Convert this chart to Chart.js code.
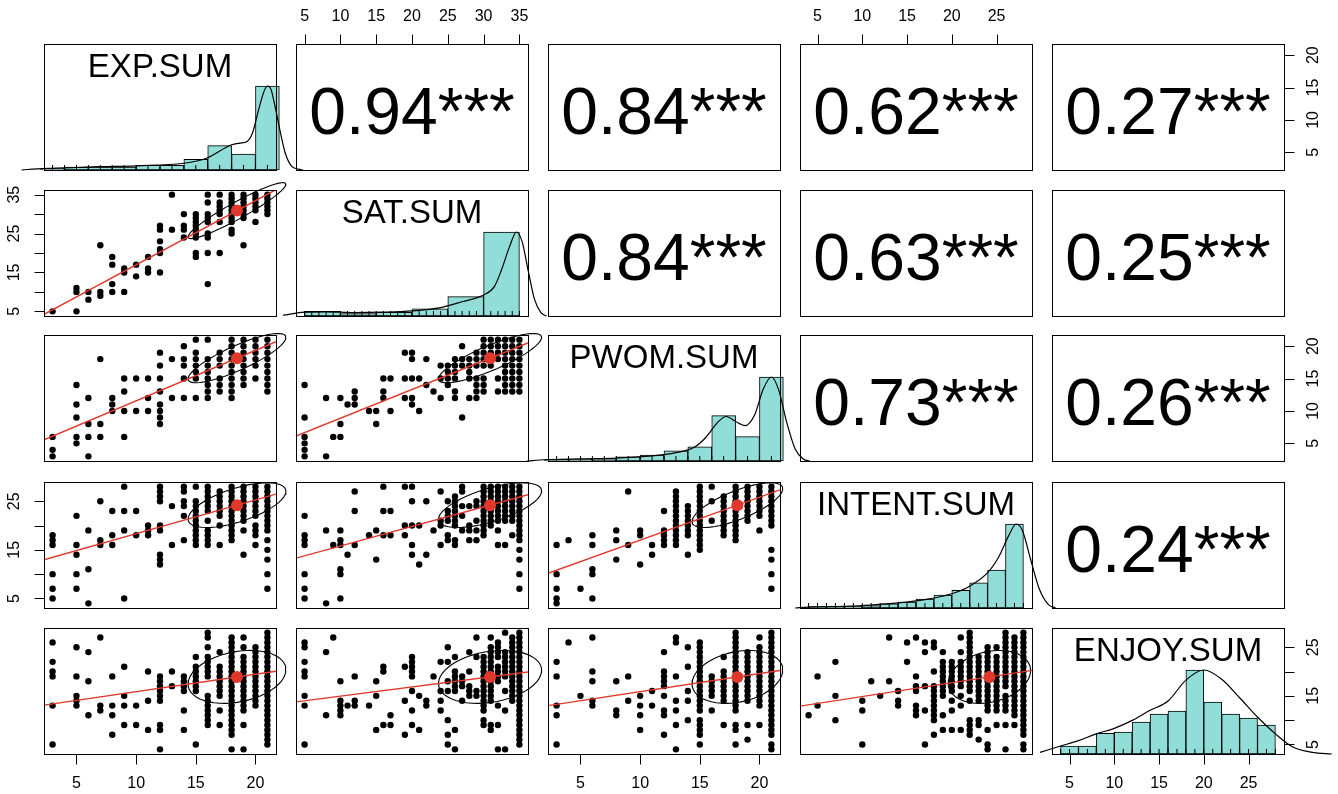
<!DOCTYPE html>
<html>
<head>
<meta charset="utf-8">
<script src="https://cdn.jsdelivr.net/npm/chart.js@4.4.1/dist/chart.umd.min.js"></script>
<style>
  html, body { margin: 0; padding: 0; background: #fff; overflow: hidden; }
  #wrap { position: relative; width: 1338px; height: 794px; }
  #wrap canvas { position: absolute; }
</style>
</head>
<body>
<div id="wrap"></div>
<script>
// ---- variables ----
const varNames = ['EXP.SUM', 'SAT.SUM', 'PWOM.SUM', 'INTENT.SUM', 'ENJOY.SUM'];
const varMin = [3, 5, 3, 4, 4];
const varMax = [21, 35, 21, 28, 28];
const varMean = [18.45, 30.9, 18.15, 24.2, 18.9];
const varSd = [4.1, 7.2, 3.8, 4.6, 5.45];

const corrs = [
  [1, 0.94, 0.84, 0.62, 0.27],
  [0.94, 1, 0.84, 0.63, 0.25],
  [0.84, 0.84, 1, 0.73, 0.26],
  [0.62, 0.63, 0.73, 1, 0.24],
  [0.27, 0.25, 0.26, 0.24, 1],
];

// ---- tick values ----
const ticksEXP = [5, 10, 15, 20];
const ticksSAT = [5, 10, 15, 20, 25, 30, 35];
const ticksPWOM = [5, 10, 15, 20];
const ticksINTENT = [5, 10, 15, 20, 25];
const ticksENJOY = [5, 10, 15, 20, 25];

// ---- histograms (bin edges, heights relative to tallest bin) ----
const expEdges = [2, 4, 6, 8, 10, 12, 14, 16, 18, 20, 22];
const expHeights = [0.02, 0.036, 0.036, 0.036, 0.055, 0.055, 0.127, 0.29, 0.19, 1];
const satEdges = [5, 10, 15, 20, 25, 30, 35];
const satHeights = [0.055, 0.03, 0.045, 0.085, 0.23, 1];
const pwomEdges = [2, 4, 6, 8, 10, 12, 14, 16, 18, 20, 22];
const pwomHeights = [0.02, 0.02, 0.025, 0.05, 0.07, 0.12, 0.17, 0.54, 0.29, 1];
const intentEdges = [4, 6, 8, 10, 12, 14, 16, 18, 20, 22, 24, 26, 28];
const intentHeights = [0.02, 0.02, 0.02, 0.03, 0.05, 0.07, 0.107, 0.155, 0.21, 0.3, 0.45, 1];
const enjoyEdges = [4, 6, 8, 10, 12, 14, 16, 18, 20, 22, 24, 26, 28];
const enjoyHeights = [0.095, 0.095, 0.246, 0.262, 0.381, 0.476, 0.512, 1, 0.619, 0.476, 0.429, 0.345];

// ---- density curves (x, relative height) ----
const expDensity = [[0.4, 0], [2, 0.016], [5, 0.03], [7, 0.04], [10, 0.05], [14, 0.08], [15.9, 0.14], [18, 0.3], [18.7, 0.32], [19.3, 0.34], [19.75, 0.44], [20.25, 0.71], [20.7, 0.93], [21, 1], [21.3, 0.96], [21.65, 0.75], [22.1, 0.44], [22.5, 0.2], [23, 0.05], [23.6, 0.01], [24, 0]];
const satDensity = [[2, 0.01], [5, 0.045], [8, 0.05], [12, 0.04], [16, 0.045], [20, 0.06], [24, 0.1], [27, 0.17], [30, 0.25], [31.5, 0.35], [32.5, 0.55], [33.6, 0.82], [34.6, 1], [35.4, 0.88], [36.2, 0.55], [37.1, 0.2], [38, 0.04], [38.8, 0]];
const pwomDensity = [[0.5, 0], [2, 0.015], [5, 0.025], [8, 0.035], [11, 0.06], [13, 0.1], [14.5, 0.16], [15.5, 0.28], [16.5, 0.46], [17.2, 0.53], [18, 0.47], [18.8, 0.42], [19.6, 0.55], [20.3, 0.85], [21, 1], [21.6, 0.85], [22.3, 0.45], [23, 0.14], [23.7, 0.02], [24.2, 0]];
const intentDensity = [[2.5, 0], [4, 0.01], [8, 0.02], [11, 0.035], [14, 0.06], [17, 0.1], [20, 0.17], [22, 0.26], [24, 0.42], [25.3, 0.62], [26.3, 0.85], [27.2, 1], [27.9, 0.92], [28.8, 0.58], [29.8, 0.22], [30.8, 0.04], [31.6, 0]];
const enjoyDensity = [[1.7, 0.02], [4, 0.095], [6, 0.16], [8, 0.24], [10, 0.305], [12, 0.4], [14, 0.52], [16, 0.63], [18, 0.88], [20, 1], [22, 0.89], [24, 0.67], [26, 0.44], [28, 0.24], [30, 0.08], [32.1, 0.02], [34.3, 0]];

// ---- rug values ----
const expRug = [3, 4, 5, 6, 7, 8, 9, 10, 11, 12, 13, 14, 15, 16, 17, 18, 19, 20, 21];
const satRug = [5, 6, 7, 8, 9, 10, 11, 12, 13, 14, 15, 16, 17, 18, 19, 20, 21, 22, 23, 24, 25, 26, 27, 28, 29, 30, 31, 32, 33, 34, 35];
const pwomRug = [3, 4, 5, 6, 7, 8, 9, 10, 11, 12, 13, 14, 15, 16, 17, 18, 19, 20, 21];
const intentRug = [4, 5, 6, 7, 8, 9, 10, 11, 12, 13, 14, 15, 16, 17, 18, 19, 20, 21, 22, 23, 24, 25, 26, 27, 28];
const enjoyRug = [4, 5, 6, 7, 8, 9, 10, 11, 12, 13, 14, 15, 16, 17, 18, 19, 20, 21, 22, 23, 24, 25, 26, 27, 28];

// ---- scatter data: [x, [y values]] ----
const satVsExp = [
  [3, [5]], [5, [11, 10, 5]], [6, [10, 8]], [7, [22, 10, 9]], [8, [19, 17, 12, 10]],
  [9, [16, 15, 10]], [10, [17, 14]], [11, [19, 16, 15]], [12, [27, 26, 23, 21, 20, 15]],
  [13, [35, 26]], [14, [30, 27, 26, 24]], [15, [30, 29, 28, 27, 26, 25, 24, 20, 19]],
  [16, [35, 33, 30, 29, 28, 25, 24, 20, 12]], [17, [35, 33, 32, 31, 30, 28, 20]],
  [18, [35, 34, 33, 32, 31, 30, 29, 28, 26, 25]], [19, [35, 34, 33, 32, 31, 30, 29, 22]],
  [20, [35, 34, 33, 32, 31, 28]], [21, [35, 34, 33, 32, 31, 30]],
];
const pwomVsExp = [
  [3, [6, 4, 3]], [5, [14, 11, 9, 6, 5]], [6, [12, 8, 6, 3]], [7, [18, 8, 6]], [8, [12, 11, 10]],
  [9, [15, 13, 10, 6]], [10, [15, 10]], [11, [15, 12, 10]], [12, [19, 17, 15, 13, 11, 10, 9, 8]],
  [13, [18, 12]], [14, [20, 18, 17, 15, 12]], [15, [21, 19, 18, 17, 16, 15, 12]],
  [16, [21, 18, 17, 16, 15, 14, 13, 12]], [17, [19, 18, 17, 15, 14, 13]],
  [18, [21, 20, 19, 18, 17, 16, 15, 14, 13, 12]], [19, [21, 20, 19, 18, 17, 16, 15, 14]],
  [20, [21, 20, 19, 18, 17, 15]], [21, [21, 20, 19, 18, 17, 16, 15, 14, 13]],
];
const intentVsExp = [
  [3, [18, 17, 16, 10, 7, 5]], [5, [22, 16, 14, 10, 7]], [6, [19, 11, 4]], [7, [25, 17, 16]],
  [8, [23, 18, 16]], [9, [28, 23, 19, 5]], [10, [23, 18]], [11, [20, 19, 18]],
  [12, [28, 27, 26, 25, 20, 19, 14, 13, 12]], [13, [24, 16]], [14, [28, 27, 25, 24, 22, 17]],
  [15, [28, 25, 24, 23, 22, 21, 20, 19, 18, 17, 16]], [16, [28, 27, 26, 25, 24, 23, 21, 19, 18, 17, 16]],
  [17, [27, 26, 25, 24, 23, 22, 20, 16]], [18, [28, 27, 26, 25, 24, 23, 22, 21, 20, 19, 18, 17]],
  [19, [28, 27, 26, 25, 24, 23, 22, 21, 19, 14]], [20, [28, 27, 26, 25, 24, 23, 22, 20, 19, 18, 16]],
  [21, [28, 27, 26, 25, 24, 23, 22, 21, 20, 19, 17, 15, 13, 10, 7]],
];
const enjoyVsExp = [
  [3, [26, 22, 20, 19, 13, 5]], [5, [25, 19, 15, 14, 13]], [6, [24, 18, 11]], [7, [27, 13, 12]],
  [8, [19, 13, 11, 7]], [9, [21, 15, 13, 9]], [10, [13, 9]], [11, [20, 14, 8]],
  [12, [19, 18, 17, 16, 15, 14, 9, 8, 4]], [13, [20, 17]], [14, [19, 18, 17, 16, 12, 8]],
  [15, [23, 21, 20, 19, 18, 17, 16, 5]], [16, [28, 27, 25, 23, 22, 21, 20, 19, 15, 14, 13, 12, 11, 10, 9]],
  [17, [24, 21, 20, 19, 18, 17, 16, 15, 12, 9]],
  [18, [27, 26, 25, 24, 23, 22, 21, 20, 19, 18, 17, 16, 15, 14, 13, 12, 11, 10, 9, 8, 7, 4]],
  [19, [27, 25, 23, 22, 21, 20, 19, 18, 17, 16, 15, 14, 13, 12, 9, 4]],
  [20, [25, 24, 23, 22, 21, 20, 19, 18, 17, 16, 15, 14, 13]],
  [21, [28, 27, 26, 25, 24, 23, 22, 21, 20, 19, 18, 17, 16, 15, 14, 13, 12, 11, 10, 9, 8, 7, 6, 5]],
];
const pwomVsSat = [
  [5, [14, 9, 6, 5, 4, 3]], [8, [12, 3]], [9, [6]], [10, [12, 8, 6]], [11, [11]], [12, [13, 12, 11]],
  [14, [10]], [15, [10, 8]], [16, [15, 13, 12]], [17, [15, 10]], [19, [19, 15, 12]],
  [20, [19, 18, 15, 12, 11]], [21, [15, 10]], [22, [18, 14]], [23, [13]], [24, [17, 15, 12]],
  [25, [17, 16, 15, 14]], [26, [18, 17, 16, 15, 13, 12]], [27, [20, 18, 17, 9]],
  [28, [18, 17, 16, 15, 12]], [29, [19, 18, 17, 15, 14, 13, 12]], [30, [21, 20, 19, 18, 17, 15, 14, 13]],
  [31, [21, 20, 19, 18, 17]], [32, [21, 20, 19, 18, 15, 13]],
  [33, [21, 20, 19, 18, 17, 16, 15, 14, 13]], [34, [21, 20, 19, 18, 17, 16, 15, 14, 13]],
  [35, [21, 20, 19, 18, 17, 16, 15, 14, 13]],
];
const intentVsSat = [
  [5, [22, 18, 17, 16, 10, 7, 5]], [8, [19, 4]], [9, [16]], [10, [19, 17, 16, 11, 10, 5]], [11, [14]],
  [12, [27, 23, 16]], [14, [18]], [15, [19, 13]], [16, [28, 23, 18]], [17, [23, 18]], [19, [28, 20, 18]],
  [20, [28, 25, 20, 16, 14]], [21, [20, 12]], [22, [25, 14]], [23, [19]], [24, [27, 21, 20, 16]],
  [25, [25, 23, 22, 21, 18, 17]], [26, [26, 25, 24, 23, 22, 21, 20, 17, 16]], [27, [28, 27, 24, 22, 19]],
  [28, [24, 20, 19, 17]], [29, [25, 24, 21, 19, 17]], [30, [28, 27, 26, 25, 24, 23, 22, 21, 20, 19, 18]],
  [31, [28, 27, 26, 25, 24, 23, 22, 21, 20]], [32, [28, 27, 26, 25, 24, 23, 22, 21, 19, 16]],
  [33, [28, 27, 26, 25, 24, 23, 22, 21, 16]], [34, [28, 27, 26, 25, 24, 23, 22, 21, 18]],
  [35, [28, 27, 26, 25, 24, 23, 22, 21, 20, 19, 18, 17, 15, 13, 10, 7]],
];
const enjoyVsSat = [
  [5, [26, 25, 22, 20, 19, 15, 13, 5]], [8, [24, 11]], [9, [27]], [10, [18, 14, 13, 12, 11]], [11, [13]],
  [12, [19, 14, 13]], [14, [13]], [15, [18, 15, 8]], [16, [21, 20, 9]], [17, [11, 9]], [19, [21, 14, 7]],
  [20, [23, 22, 21, 20, 19, 16, 12, 9]], [21, [15, 8]], [22, [14, 13]], [23, [19]], [24, [22, 16, 14, 12]],
  [25, [25, 22, 18, 16, 10, 7, 5]], [26, [23, 20, 19, 18, 17, 16, 8, 4]], [27, [19, 18, 17, 14]],
  [28, [24, 20, 17, 16, 15]], [29, [27, 23, 16, 15]],
  [30, [23, 22, 21, 20, 19, 18, 17, 16, 15, 14, 13, 12, 10, 9]],
  [31, [27, 25, 24, 23, 22, 21, 20, 19, 18, 17, 16, 15, 14, 9, 8]],
  [32, [26, 25, 24, 23, 21, 20, 19, 18, 13, 9, 4]], [33, [28, 24, 23, 22, 21, 20, 19, 16, 12, 4]],
  [34, [27, 26, 25, 24, 23, 22, 21, 20, 19, 18, 17, 16, 15, 14]],
  [35, [28, 27, 26, 25, 24, 23, 22, 21, 20, 19, 18, 17, 16, 15, 14, 13, 12, 11, 10, 9, 8, 7, 6, 5]],
];
const intentVsPwom = [
  [3, [16, 10, 7, 5, 4]], [4, [17]], [5, [7]], [6, [18, 16, 11, 10, 5]], [8, [19, 17, 13]], [9, [27, 16]],
  [10, [19, 18, 12]], [11, [16, 14]], [12, [23, 19, 18, 17, 16]],
  [13, [27, 26, 25, 24, 23, 22, 21, 20, 19, 18, 17, 16]], [14, [24, 23, 22, 21, 20, 19, 18, 14]],
  [15, [28, 27, 26, 25, 24, 23, 22, 21, 20, 19, 18, 17, 16, 15]], [16, [28, 25, 21]],
  [17, [26, 25, 24, 23, 22, 21, 20, 19, 18]], [18, [28, 27, 26, 25, 24, 23, 22, 21, 20, 19, 18, 17]],
  [19, [28, 27, 26, 25, 24, 23, 22, 21]], [20, [28, 27, 26, 25, 24, 23, 22, 19]],
  [21, [28, 27, 26, 25, 24, 23, 22, 21, 20, 15, 13, 10, 7]],
];
const enjoyVsPwom = [
  [3, [22, 19, 13, 11, 5]], [4, [26]], [5, [15]], [6, [27, 20, 18, 14, 13]], [8, [18, 12, 11]], [9, [19, 14]],
  [10, [15, 13, 11, 8]], [11, [16, 13]], [12, [24, 20, 19, 18, 17, 15, 12, 11, 7]],
  [13, [27, 26, 19, 14, 12, 9, 4]], [14, [25, 21, 16, 14, 10]],
  [15, [26, 25, 24, 23, 22, 21, 20, 19, 18, 17, 16, 15, 14, 13, 12, 10, 9, 8, 7, 5]],
  [16, [19, 18, 17, 16, 15, 12]], [17, [23, 20, 19, 18, 17, 16, 15, 14, 9]],
  [18, [28, 27, 26, 25, 24, 23, 22, 21, 20, 19, 18, 17, 16, 15, 14, 13, 12, 9, 8, 5]],
  [19, [24, 23, 22, 21, 20, 19, 18, 17, 16, 15, 14, 9, 6]],
  [20, [27, 25, 24, 23, 22, 21, 20, 19, 18, 17, 16, 15, 14, 13, 9]],
  [21, [28, 27, 26, 25, 24, 23, 22, 21, 20, 19, 18, 17, 16, 15, 14, 13, 12, 11, 10, 9, 8, 7, 5, 4]],
];
const enjoyVsIntent = [
  [4, [11]], [5, [19, 13]], [7, [22, 15, 10]], [10, [14, 12, 5]], [11, [18]], [12, [15]], [13, [27, 18]],
  [14, [16, 14, 13]], [15, [26, 22]], [16, [27, 19, 17, 16, 13, 12, 11]], [17, [26, 24, 17, 12, 5]],
  [18, [26, 25, 20, 17, 16, 15, 14, 13, 12, 11, 10, 7]], [19, [24, 22, 21, 20, 19, 18, 17, 16, 15, 11, 8]],
  [20, [22, 21, 20, 19, 18, 17, 16, 14, 12, 8]], [21, [27, 24, 22, 21, 20, 19, 18, 17, 15, 13, 8]],
  [22, [28, 27, 26, 25, 24, 23, 22, 21, 20, 19, 18, 17, 16, 14, 10, 9, 8, 7]],
  [23, [23, 22, 21, 20, 19, 18, 17, 16, 15, 14, 10, 9, 6]],
  [24, [25, 24, 23, 22, 21, 20, 19, 18, 17, 16, 15, 14, 13, 12, 8, 5, 4]],
  [25, [25, 23, 22, 21, 20, 19, 18, 17, 16, 15, 14, 13, 12, 9]],
  [26, [28, 27, 26, 25, 24, 23, 22, 21, 20, 19, 18, 17, 15, 14, 13, 12, 9, 4]],
  [27, [27, 26, 25, 24, 23, 22, 21, 20, 19, 18, 17, 16, 15, 14, 13, 12, 11, 9]],
  [28, [28, 27, 26, 25, 24, 23, 22, 21, 20, 19, 18, 17, 16, 15, 14, 13, 12, 11, 10, 9, 8, 7, 5, 4]],
];

const histEdges = [expEdges, satEdges, pwomEdges, intentEdges, enjoyEdges];
const histHeights = [expHeights, satHeights, pwomHeights, intentHeights, enjoyHeights];
const densities = [expDensity, satDensity, pwomDensity, intentDensity, enjoyDensity];
const rugs = [expRug, satRug, pwomRug, intentRug, enjoyRug];
const pairData = {
  '1-0': satVsExp, '2-0': pwomVsExp, '3-0': intentVsExp, '4-0': enjoyVsExp,
  '2-1': pwomVsSat, '3-1': intentVsSat, '4-1': enjoyVsSat,
  '3-2': intentVsPwom, '4-2': enjoyVsPwom, '4-3': enjoyVsIntent,
};

// outer axes (R pairs alternates sides)
const outerAxes = [
  { row: 0, col: 1, side: 'top', ticks: ticksSAT, labels: ticksSAT },
  { row: 0, col: 3, side: 'top', ticks: ticksINTENT, labels: ticksINTENT },
  { row: 0, col: 4, side: 'right', ticks: ticksEXP, labels: ticksEXP },
  { row: 1, col: 0, side: 'left', ticks: ticksSAT, labels: [5, 15, 25, 35] },
  { row: 2, col: 4, side: 'right', ticks: ticksPWOM, labels: ticksPWOM },
  { row: 3, col: 0, side: 'left', ticks: ticksINTENT, labels: [5, 15, 25] },
  { row: 4, col: 0, side: 'bottom', ticks: ticksEXP, labels: ticksEXP },
  { row: 4, col: 2, side: 'bottom', ticks: ticksPWOM, labels: ticksPWOM },
  { row: 4, col: 4, side: 'bottom', ticks: ticksENJOY, labels: ticksENJOY },
  { row: 4, col: 4, side: 'right', ticks: ticksENJOY, labels: [5, 15, 25] },
];

// ---- layout ----
const colLeft = [44, 296, 548, 800, 1052];
const rowTop = [44, 190, 335, 482, 628];
const W = 232, H = 126, M = 56;
const RED = '#e0382b';
const HIST = '#90ded7';
const FONT = '"Liberation Sans", Arial, Helvetica, sans-serif';

function rangeOf(k) {
  const pad = (varMax[k] - varMin[k]) * 0.04;
  return [varMin[k] - pad, varMax[k] + pad];
}

function clearTicks(scale) {
  scale.ticks = [];
}

function ellipsePoints(i, j) {
  const r = corrs[i][j];
  const t = Math.sign(r) / Math.sqrt(2);
  const a1 = Math.sqrt(1 + r), a2 = Math.sqrt(1 - r);
  const pts = [];
  for (let k = 0; k <= 51; k++) {
    const ang = k * 2 * Math.PI / 51;
    const u = Math.cos(ang), v = Math.sin(ang);
    pts.push({
      x: varMean[j] + varSd[j] * (u * a1 * t - v * a2 * t),
      y: varMean[i] + varSd[i] * (u * a1 * t + v * a2 * t),
    });
  }
  return pts;
}

const panelPlugin = {
  id: 'panel',
  afterDraw(chart, args, opts) {
    const { ctx, chartArea: a } = chart;
    const { row, col } = opts;
    ctx.save();
    ctx.strokeStyle = '#000';
    ctx.fillStyle = '#000';
    ctx.lineWidth = 1;
    ctx.strokeRect(a.left + 0.5, a.top + 0.5, a.right - a.left, a.bottom - a.top);

    if (row === col) {
      ctx.font = '33px ' + FONT;
      ctx.textAlign = 'center';
      ctx.textBaseline = 'alphabetic';
      ctx.fillText(varNames[row], (a.left + a.right) / 2, a.top + 33);
    } else if (row < col) {
      ctx.font = '66px ' + FONT;
      ctx.textAlign = 'center';
      ctx.textBaseline = 'alphabetic';
      ctx.fillText(corrs[row][col].toFixed(2) + '***', (a.left + a.right) / 2, a.top + 90);
    }

    ctx.font = '16px ' + FONT;
    outerAxes.filter((ax) => ax.row === row && ax.col === col).forEach((ax) => {
      const horiz = ax.side === 'top' || ax.side === 'bottom';
      const sc = horiz ? chart.scales.x : chart.scales.yv;
      const pos = ax.ticks.map((v) => Math.round(sc.getPixelForValue(v)) + 0.5);
      ctx.beginPath();
      if (horiz) {
        const e = ax.side === 'bottom' ? a.bottom + 0.5 : a.top + 0.5;
        const d = ax.side === 'bottom' ? 10 : -10;
        ctx.moveTo(pos[0], e);
        ctx.lineTo(pos[pos.length - 1], e);
        pos.forEach((p) => { ctx.moveTo(p, e); ctx.lineTo(p, e + d); });
      } else {
        const e = ax.side === 'left' ? a.left + 0.5 : a.right + 0.5;
        const d = ax.side === 'left' ? -10 : 10;
        ctx.moveTo(e, pos[0]);
        ctx.lineTo(e, pos[pos.length - 1]);
        pos.forEach((p) => { ctx.moveTo(e, p); ctx.lineTo(e + d, p); });
      }
      ctx.stroke();
      ctx.textAlign = 'center';
      ctx.textBaseline = 'middle';
      ax.labels.forEach((v) => {
        const p = sc.getPixelForValue(v);
        if (ax.side === 'bottom') ctx.fillText(String(v), p, a.bottom + 30);
        else if (ax.side === 'top') ctx.fillText(String(v), p, a.top - 27);
        else {
          const x = ax.side === 'left' ? a.left - 29 : a.right + 30;
          ctx.save();
          ctx.translate(x, p);
          ctx.rotate(-Math.PI / 2);
          ctx.fillText(String(v), 0, 0);
          ctx.restore();
        }
      });
    });
    ctx.restore();
  },
};

function buildConfig(i, j) {
  const xr = rangeOf(j);
  const yr = rangeOf(i);
  let yRange = yr;
  const datasets = [];

  if (i === j) {
    yRange = [0, 1.5];
    const edges = histEdges[i];
    // listed right-to-left so Chart.js does not trim the curve at the panel edges
    datasets.push({
      type: 'line',
      data: densities[i].map(([x, y]) => ({ x, y })).reverse(),
      borderColor: '#000',
      borderWidth: 1.2,
      pointRadius: 0,
      cubicInterpolationMode: 'monotone',
      clip: false,
      order: 0,
    });
    datasets.push({
      type: 'scatter',
      data: rugs[i].map((x) => ({ x, y: 0.03 })),
      pointStyle: 'line',
      rotation: 90,
      pointRadius: 2.5,
      borderColor: '#000',
      borderWidth: 1,
      clip: false,
      order: 1,
    });
    datasets.push({
      type: 'bar',
      data: histHeights[i].map((h, k) => ({ x: (edges[k] + edges[k + 1]) / 2, y: h })),
      backgroundColor: HIST,
      borderColor: '#000',
      borderWidth: 1,
      borderSkipped: false,
      barPercentage: 1,
      categoryPercentage: 1,
      clip: false,
      order: 2,
    });
  } else if (i > j) {
    const pts = [];
    pairData[i + '-' + j].forEach(([x, ys]) => ys.forEach((y) => pts.push({ x, y })));
    const slope = corrs[i][j] * varSd[i] / varSd[j];
    const fit = (x) => varMean[i] + slope * (x - varMean[j]);
    datasets.push({
      type: 'scatter',
      data: [{ x: varMean[j], y: varMean[i] }],
      pointRadius: 6,
      backgroundColor: RED,
      borderWidth: 0,
      clip: false,
      order: 0,
    });
    datasets.push({
      type: 'line',
      data: [{ x: xr[0], y: fit(xr[0]) }, { x: xr[1], y: fit(xr[1]) }],
      borderColor: RED,
      borderWidth: 1.4,
      pointRadius: 0,
      order: 1,
    });
    datasets.push({
      type: 'line',
      data: ellipsePoints(i, j),
      borderColor: '#000',
      borderWidth: 1.1,
      pointRadius: 0,
      tension: 0,
      clip: false,
      order: 2,
    });
    datasets.push({
      type: 'scatter',
      data: pts,
      pointRadius: 3.2,
      backgroundColor: '#000',
      borderWidth: 0,
      order: 3,
    });
  }

  return {
    type: 'scatter',
    data: { datasets },
    options: {
      responsive: false,
      animation: false,
      devicePixelRatio: 1,
      events: [],
      layout: { padding: M },
      plugins: {
        legend: { display: false },
        tooltip: { enabled: false },
        panel: { row: i, col: j },
      },
      scales: {
        x: { type: 'linear', display: false, min: xr[0], max: xr[1], afterBuildTicks: clearTicks },
        y: { type: 'linear', display: false, min: yRange[0], max: yRange[1], afterBuildTicks: clearTicks },
        yv: { type: 'linear', axis: 'y', display: false, min: yr[0], max: yr[1], afterBuildTicks: clearTicks },
      },
    },
    plugins: [panelPlugin],
  };
}

const wrap = document.getElementById('wrap');
for (let i = 0; i < 5; i++) {
  for (let j = 0; j < 5; j++) {
    const c = document.createElement('canvas');
    c.width = W + 2 * M;
    c.height = H + 2 * M;
    c.style.left = (colLeft[j] - M) + 'px';
    c.style.top = (rowTop[i] - M) + 'px';
    wrap.appendChild(c);
    new Chart(c, buildConfig(i, j));
  }
}
</script>
</body>
</html>
